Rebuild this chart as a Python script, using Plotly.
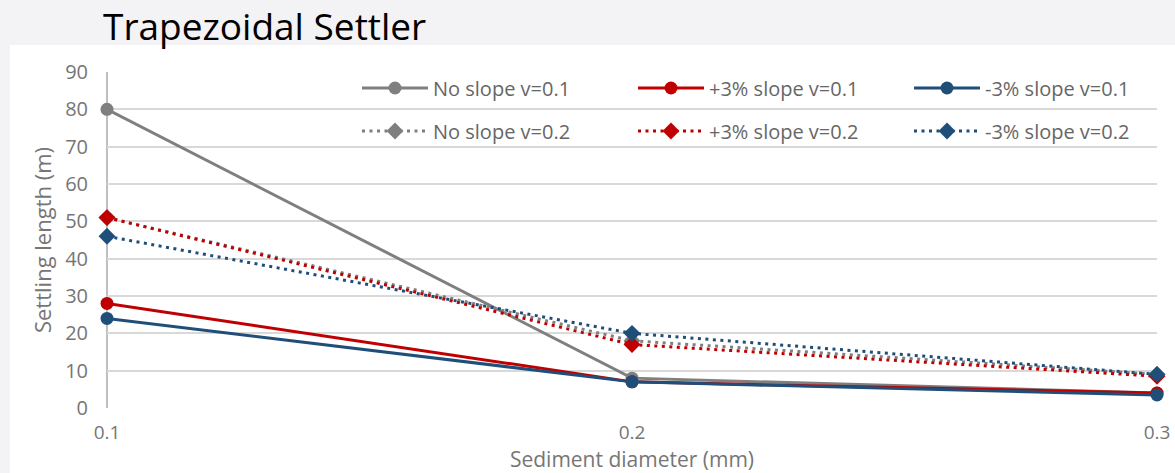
import plotly.graph_objects as go

# Sediment diameters (mm)
diameter = [0.1, 0.2, 0.3]

# Settling lengths (m) per slope / flow velocity case
no_slope_v01 = [80, 8, 4]
plus3_v01 = [28, 7, 4]
minus3_v01 = [24, 7, 3.5]
no_slope_v02 = [51, 18, 9]
plus3_v02 = [51, 17, 8.5]
minus3_v02 = [46, 20, 9]

y_ticks = list(range(0, 100, 10))
x_ticks = [0.1, 0.2, 0.3]
x_tick_text = ["0.1", "0.2", "0.3"]

GRAY = "#7f7f7f"
RED = "#c00000"
BLUE = "#1f4e79"
FONT = "'Open Sans', sans-serif"
TEXT = "#767676"

# (name, values, colour, dash, marker, legend row)
series = [
    ("No slope v=0.1", no_slope_v01, GRAY, "solid", "circle", "legend"),
    ("+3% slope v=0.1", plus3_v01, RED, "solid", "circle", "legend"),
    ("-3% slope v=0.1", minus3_v01, BLUE, "solid", "circle", "legend"),
    ("No slope v=0.2", no_slope_v02, GRAY, "3px,4.5px", "diamond", "legend2"),
    ("+3% slope v=0.2", plus3_v02, RED, "3px,4.5px", "diamond", "legend2"),
    ("-3% slope v=0.2", minus3_v02, BLUE, "3px,4.5px", "diamond", "legend2"),
]

fig = go.Figure()
for name, vals, color, dash, symbol, leg in series:
    fig.add_trace(go.Scatter(
        x=diameter, y=vals, name=name, mode="lines+markers",
        line=dict(color=color, width=3, dash=dash),
        marker=dict(color=color, symbol=symbol, size=13),
        cliponaxis=False, legend=leg,
    ))

# plot area: left 107px, right 1157px, top 72px, bottom 408px
W, H = 1175, 473
L, R, T, B = 107, 18, 72, 65
pw, ph = W - L - R, H - T - B

# white chart panel on the slide background
fig.add_shape(
    type="rect", xref="paper", yref="paper", layer="below",
    x0=(10 - L) / pw, x1=(W - L) / pw,
    y0=-(B) / ph, y1=(H - B - 45) / ph,
    fillcolor="white", line=dict(width=0),
)

legend_common = dict(
    orientation="h", x=(357 - L) / pw, xanchor="left", yanchor="middle",
    bgcolor="rgba(0,0,0,0)", font=dict(size=20, color="#666666", family=FONT),
    entrywidth=195, entrywidthmode="pixels", itemwidth=66,
)

fig.update_layout(
    width=W, height=H,
    margin=dict(l=L, r=R, t=T, b=B, autoexpand=False),
    paper_bgcolor="#f3f2f4",
    plot_bgcolor="white",
    font=dict(family=FONT, color=TEXT),
    title=dict(
        text="Trapezoidal Settler", x=103 / W, xref="container", xanchor="left",
        y=1 - 27 / H, yref="container", yanchor="middle",
        font=dict(size=37, color="#000000", family=FONT),
    ),
    showlegend=True,
    legend=dict(y=(H - B - 88) / ph, **legend_common),
    legend2=dict(y=(H - B - 131) / ph, **legend_common),
    xaxis=dict(
        range=[0.1, 0.3], tickvals=x_ticks, ticktext=x_tick_text,
        showgrid=False, zeroline=False, showline=False,
        ticks="", ticklabelstandoff=11,
        tickfont=dict(size=19, color=TEXT),
        title=dict(text="Sediment diameter (mm)", standoff=6,
                   font=dict(size=21, color=TEXT)),
    ),
    yaxis=dict(
        range=[0, 90], tickvals=y_ticks,
        showgrid=True, gridcolor="#d9d9d9", gridwidth=2,
        zeroline=False, showline=False, ticks="",
        ticklabelstandoff=18,
        tickfont=dict(size=20, color=TEXT),
        title=dict(text="Settling length (m)", standoff=7,
                   font=dict(size=22, color=TEXT)),
    ),
)

# vertical axis line at the left edge of the plot
fig.add_shape(type="line", xref="paper", yref="paper", x0=0, x1=0, y0=0, y1=1,
              line=dict(color="#bfbfbf", width=2), layer="below")

fig.write_html("out.html")
